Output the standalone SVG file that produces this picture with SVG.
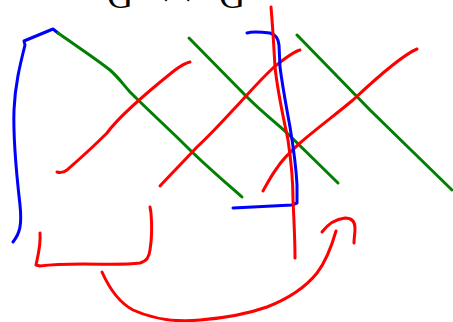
<svg xmlns="http://www.w3.org/2000/svg" width="453" height="322" viewBox="0 0 453 322">
<style>
.s{fill:none;stroke-width:3;stroke-linecap:round;stroke-linejoin:round}
.b{stroke:#0000ff}
.g{stroke:#008000}
.r{stroke:#ff0000}
.t{font-family:"Liberation Serif","Times New Roman",serif;fill:#000}
</style>
<rect width="453" height="322" fill="#fff"/>
<g id="title">
<text class="t" x="120" y="8" font-size="36" text-anchor="middle">G</text>
<text class="t" x="177" y="10" font-size="66" text-anchor="middle">×</text>
<text class="t" x="232" y="8" font-size="36" text-anchor="middle">G</text>
</g>
<g id="strokes">
<path id="blue-left" class="s b" d="M13,242 C20,233 22,225 20,205 C16,170 13,140 14,110 C15,85 20,65 25,45 L24,41 L53,29 L58,33"/>
<path id="green-1" class="s g" d="M58,33 C75,45 95,58 110,70 C118,77 122,83 130,92 C150,112 170,130 187,147 C205,165 225,182 242,197"/>
<path id="red-1" class="s r" d="M190,62 C185,63 182,65 175,70 C150,90 120,115 107,133 C90,150 75,163 67,170 C63,173 60,173 57,172"/>
<path id="green-2" class="s g" d="M189,38 L247,97 C262,112 275,122 287,133 L338,183"/>
<path id="red-2" class="s r" d="M300,50 C293,52 285,58 273,68 C255,85 243,100 233,110 C222,122 210,135 197,147 C185,160 172,173 160,186"/>
<path id="green-3" class="s g" d="M297,35 L370,110 L452,190"/>
<path id="red-3" class="s r" d="M417,49 C405,54 385,70 353,100 C335,115 315,130 300,143 C290,152 282,160 277,168 C271,176 267,184 263,191"/>
<path id="blue-right" class="s b" d="M247,33 C252,31 262,32 270,33 C276,35 278,38 279,45 L280,67 C283,90 287,110 290,127 C293,145 296,165 297,185 L297,203 L292,205 L233,208"/>
<path id="red-vertical" class="s r" d="M271,7 C273,30 274,50 275,67 C278,95 284,120 288,140 C291,160 293,180 293,200 C294,220 295,240 295,258"/>
<path id="red-bracket" class="s r" d="M40,233 C41,245 38,255 36,265 L40,266 C55,264 70,264 83,264 C105,264 125,265 140,263 C147,261 149,257 150,250 C152,238 152,225 151,213 L150,207"/>
</g>
<g id="connectors">
<path id="arc" class="s r" d="M102,272 C110,290 120,303 133,310 C155,320 180,322 200,320 C225,318 250,313 267,307 C290,298 305,288 317,273 C327,260 332,245 336,231"/>
<path id="arrowhead" class="s r" d="M322,232 C328,224 336,219 345,218 C352,218 355,222 355,228 C355,234 354,238 354,243"/>
</g>
</svg>
